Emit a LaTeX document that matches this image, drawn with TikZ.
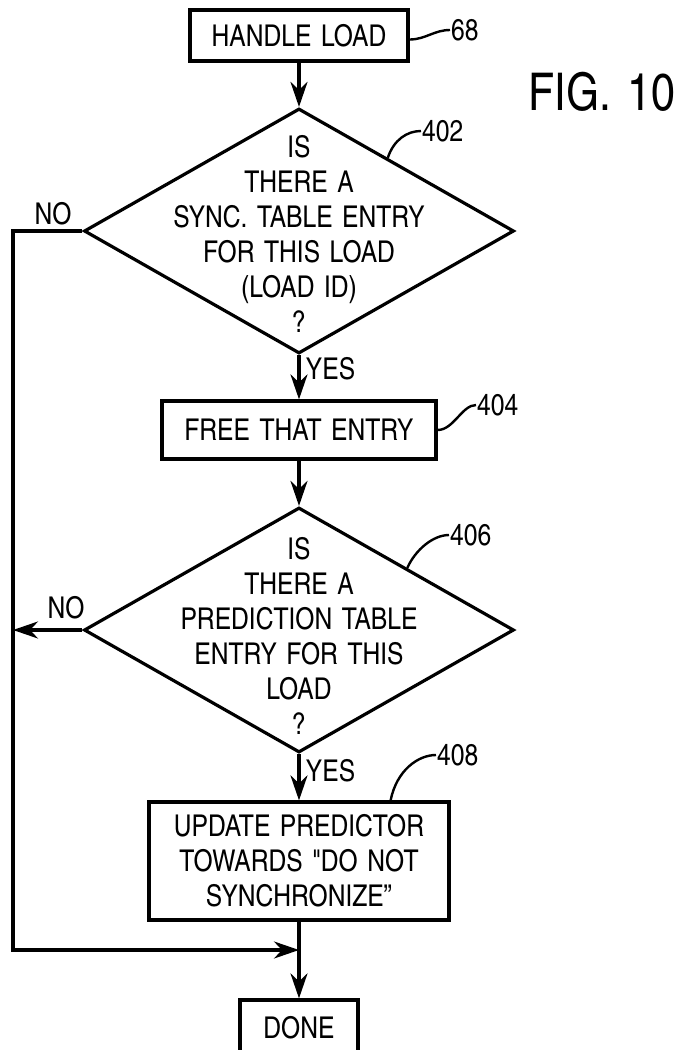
\documentclass[tikz,border=0pt]{standalone}
\usepackage{fontspec}
\setmainfont{texgyreheroscn-regular.otf}[WordSpace=1.4]
\usetikzlibrary{shapes.geometric, arrows.meta, calc}
\tikzset{flowbox/.style={draw, line width=3.2pt, align=center, inner sep=0pt}}
\tikzset{decision/.style={draw, diamond, line width=3.2pt, minimum width=430pt, minimum height=245pt, inner sep=0pt}}
\tikzset{flow/.style={line width=3.2pt, -{Stealth[length=25pt, width=17pt, inset=8pt]}}}
\tikzset{leader/.style={line width=2.4pt}}
\tikzset{tag/.style={inner sep=1pt, anchor=west}}

\begin{document}
\begin{tikzpicture}[x=1pt, y=-1pt, font=\fontsize{30}{35}\selectfont]
            \useasboundingbox (0, 0) rectangle (678, 1050);
            \node[flowbox, minimum width=218pt, minimum height=51pt] (handle) at (299, 35.5) {HANDLE LOAD};
            \node[decision] (sync) at (299, 231) {};
            \node[align=center] (synctext) at (299, 234) {IS\\THERE A\\SYNC. TABLE ENTRY\\FOR THIS LOAD\\(LOAD ID)\\?};
            \node[flowbox, minimum width=274pt, minimum height=58pt] (free) at (299, 430) {FREE THAT ENTRY};
            \node[decision] (decide) at (299, 630) {};
            \node[align=center] (decidetext) at (299, 636) {IS\\THERE A\\PREDICTION TABLE\\ENTRY FOR THIS\\LOAD\\?};
            \node[flowbox, minimum width=300pt, minimum height=118pt] (update) at (299, 861) {UPDATE PREDICTOR\\TOWARDS \textquotedbl DO NOT\\SYNCHRONIZE''};
            \node[flowbox, minimum width=118pt, minimum height=56pt] (done) at (299, 1028) {DONE};
            \node[anchor=east, inner sep=0pt] (fig) at (675, 92) {\fontsize{52}{60}\selectfont FIG.\hspace{0.3em}10};
            \coordinate (railbot) at (13, 950);
            \coordinate (join) at (299, 950);

            \draw[flow] (handle.south) -- (sync.north);
            \draw[flow] (sync.south) -- (free.north) node [pos=0.3, right, xshift=2pt] (yes1) {YES};
            \draw[flow] (free.south) -- (decide.north);
            \draw[flow] (decide.south) -- (update.north) node [pos=0.35, right, xshift=2pt] (yes2) {YES};
            \draw[flow] (update.south) -- (done.north);
            \draw[flow] (sync.west) -| (railbot) -- (join);
            \draw[flow] (decide.west) -- (decide.west -| railbot);
            \node (no1) at (53, 214) {NO};
            \node (no2) at (66, 608) {NO};

            \node[tag] (n68) at (450, 30) {68};
            \node[tag] (n402) at (421, 131) {402};
            \node[tag] (n404) at (476, 405) {404};
            \node[tag] (n406) at (449, 535) {406};
            \node[tag] (n408) at (436, 755) {408};
            \draw[leader] ([yshift=-4pt]handle.east) .. controls +(16, 0) and +(-16, 0) .. (n68.west);
            \draw[leader] ($(sync.north)!0.41!(sync.east)$) .. controls +(6, -18) and +(-14, 0) .. (n402.west);
            \draw[leader] (free.east) .. controls +(16, 0) and +(-14, 0) .. (n404.west);
            \draw[leader] (decide.north east) .. controls +(8, -18) and +(-16, 0) .. (n406.west);
            \draw[leader] ([xshift=-60pt]update.north east) .. controls +(6, -30) and +(-18, 0) .. (n408.west);
        \end{tikzpicture}
\end{document}
